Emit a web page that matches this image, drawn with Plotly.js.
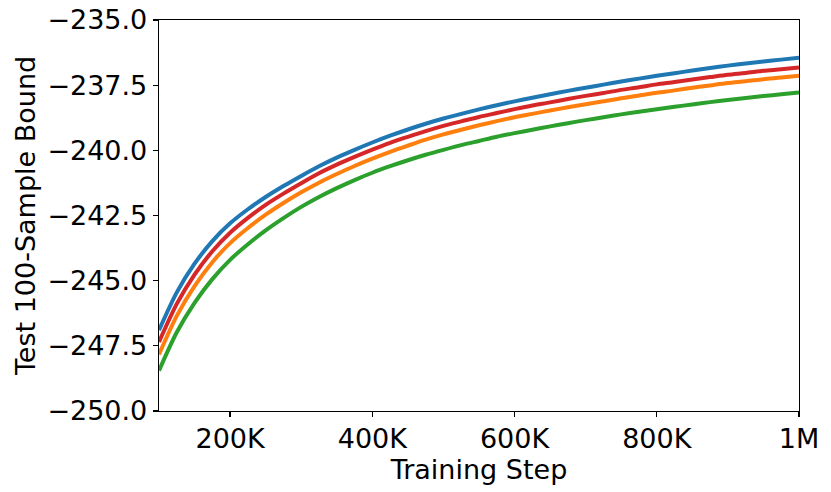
<!DOCTYPE html>
<html>
<head>
<meta charset="utf-8">
<script src="https://cdn.plot.ly/plotly-3.0.1.min.js"></script>
<style>
  html, body { margin: 0; padding: 0; background: #fff; }
  #chart { width: 831px; height: 492px; }
</style>
</head>
<body>
<div id="chart"></div>
<script>
// training steps every 25K, and the four bound curves
const steps = [
    100000, 125000, 150000, 175000, 200000, 225000, 250000, 275000, 300000, 325000,
    350000, 375000, 400000, 425000, 450000, 475000, 500000, 525000, 550000, 575000,
    600000, 625000, 650000, 675000, 700000, 725000, 750000, 775000, 800000, 825000,
    850000, 875000, 900000, 925000, 950000, 975000, 1000000
];

const blueVals = [
    -246.90, -245.45, -244.35, -243.48, -242.80, -242.26, -241.79, -241.37, -240.98, -240.61,
    -240.28, -239.98, -239.70, -239.44, -239.20, -238.98, -238.78, -238.60, -238.43, -238.27,
    -238.12, -237.98, -237.85, -237.72, -237.60, -237.48, -237.36, -237.25, -237.14, -237.04,
    -236.94, -236.84, -236.75, -236.67, -236.59, -236.52, -236.45
];
const redVals = [
    -247.35, -245.89, -244.77, -243.87, -243.16, -242.59, -242.09, -241.66, -241.26, -240.88,
    -240.55, -240.25, -239.97, -239.71, -239.48, -239.26, -239.06, -238.89, -238.72, -238.57,
    -238.42, -238.28, -238.16, -238.03, -237.91, -237.80, -237.68, -237.58, -237.47, -237.38,
    -237.28, -237.19, -237.10, -237.03, -236.95, -236.89, -236.82
];
const orangeVals = [
    -247.83, -246.35, -245.21, -244.29, -243.56, -242.98, -242.47, -242.02, -241.61, -241.24,
    -240.91, -240.60, -240.32, -240.06, -239.82, -239.59, -239.39, -239.21, -239.04, -238.88,
    -238.73, -238.60, -238.47, -238.35, -238.23, -238.12, -238.00, -237.90, -237.79, -237.70,
    -237.60, -237.51, -237.42, -237.35, -237.27, -237.21, -237.14
];
const greenVals = [
    -248.45, -246.98, -245.85, -244.94, -244.20, -243.60, -243.07, -242.60, -242.17, -241.79,
    -241.45, -241.14, -240.86, -240.61, -240.38, -240.17, -239.98, -239.80, -239.64, -239.48,
    -239.34, -239.21, -239.08, -238.96, -238.84, -238.73, -238.62, -238.52, -238.42, -238.33,
    -238.24, -238.15, -238.07, -237.99, -237.92, -237.85, -237.78
];

const xTickVals = [200000, 400000, 600000, 800000, 1000000];
const xTickText = ['200K', '400K', '600K', '800K', '1M'];
const yTickVals = [-250, -247.5, -245, -242.5, -240, -237.5, -235];

const series = [
    { y: greenVals, color: '#2ca02c' },
    { y: orangeVals, color: '#ff7f0e' },
    { y: redVals, color: '#d62728' },
    { y: blueVals, color: '#1f77b4' }
];

const chart_data = series.map(s => ({
    x: steps,
    y: s.y,
    type: 'scatter',
    mode: 'lines',
    line: { color: s.color, width: 4, shape: 'spline', smoothing: 0.8 },
    hoverinfo: 'skip'
}));

const axisFont = { family: 'DejaVu Sans, sans-serif', size: 27, color: '#000' };

const layout = {
    width: 831,
    height: 492,
    showlegend: false,
    paper_bgcolor: '#fff',
    plot_bgcolor: '#fff',
    margin: { l: 159, r: 32, t: 20, b: 81 },
    font: axisFont,
    xaxis: {
        title: { text: 'Training Step', font: axisFont, standoff: 0 },
        range: [100000, 1000000],
        tickmode: 'array',
        tickvals: xTickVals,
        ticktext: xTickText,
        ticks: 'outside',
        ticklen: 5,
        tickwidth: 1.3,
        tickcolor: '#000',
        tickfont: axisFont,
        ticklabelstandoff: -2,
        showgrid: false,
        zeroline: false,
        showline: true,
        mirror: true,
        linecolor: '#000',
        linewidth: 1.3,
        automargin: false
    },
    yaxis: {
        title: { text: 'Test 100-Sample Bound', font: axisFont, standoff: 4 },
        range: [-250, -235],
        tickmode: 'array',
        tickvals: yTickVals,
        tickformat: '.1f',
        ticks: 'outside',
        ticklen: 5,
        tickwidth: 1.3,
        tickcolor: '#000',
        tickfont: axisFont,
        showgrid: false,
        zeroline: false,
        showline: true,
        mirror: true,
        linecolor: '#000',
        linewidth: 1.3,
        automargin: false
    }
};

Plotly.newPlot('chart', chart_data, layout, { staticPlot: true, displayModeBar: false });
</script>
</body>
</html>
